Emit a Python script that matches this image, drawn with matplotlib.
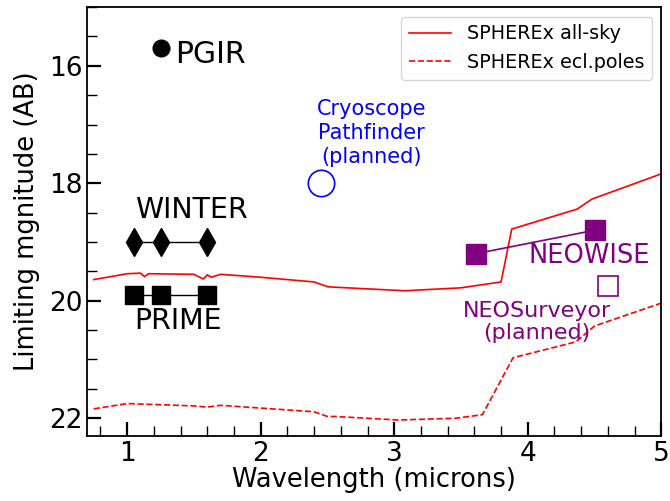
import matplotlib
matplotlib.use("Agg")
import matplotlib.pyplot as plt
from matplotlib.ticker import MultipleLocator

# SPHEREx sensitivity curves (wavelength in microns, AB mag)
sph_wav = [0.75, 1.0, 1.1, 1.13, 1.16, 1.5, 1.57, 1.6, 1.63, 1.7, 2.0, 2.4, 2.5, 2.56,
           3.08, 3.5, 3.8, 3.88, 4.37, 4.48, 5.0]
sph_all = [19.64, 19.54, 19.53, 19.59, 19.54, 19.55, 19.63, 19.56, 19.6, 19.55, 19.6,
           19.68, 19.76, 19.77, 19.83, 19.78, 19.68, 18.78, 18.44, 18.27, 17.84]

pol_wav = [0.75, 1.0, 1.5, 1.6, 1.7, 2.4, 2.5, 2.56, 3.03, 3.46, 3.66, 3.89, 4.36, 4.5, 5.0]
sph_pol = [21.84, 21.75, 21.79, 21.81, 21.78, 21.89, 21.97, 21.97, 22.03, 22.0, 21.94,
           20.97, 20.70, 20.43, 20.04]

pgir_x, pgir_y = [1.25], [15.7]
winter_x, winter_y = [1.05, 1.25, 1.6], [19.0, 19.0, 19.0]
prime_x, prime_y = [1.05, 1.25, 1.6], [19.9, 19.9, 19.9]
cryo_x, cryo_y = [2.45], [18.0]
neowise_x, neowise_y = [3.61, 4.5], [19.2, 18.8]
neosurv_x, neosurv_y = [4.6], [19.75]

fig, ax = plt.subplots(figsize=(6.7, 5.01), dpi=100)

ax.plot(sph_wav, sph_all, color='red', lw=1.2, label='SPHEREx all-sky')
ax.plot(pol_wav, sph_pol, color='red', lw=1.2, ls='--', label='SPHEREx ecl.poles')

ax.plot(pgir_x, pgir_y, 'o', color='black', ms=12)
ax.text(1.36, 15.8, 'PGIR', fontsize=21.5, va='center', ha='left')

ax.plot(winter_x, winter_y, 'd-', color='black', ms=14, lw=1)
ax.text(1.48, 18.45, 'WINTER', fontsize=20.5, ha='center', va='center')

ax.plot(prime_x, prime_y, 's-', color='black', ms=13, lw=1)
ax.text(1.38, 20.35, 'PRIME', fontsize=20.5, ha='center', va='center')

ax.plot(cryo_x, cryo_y, 'o', mfc='none', mec='blue', ms=19, mew=1.2)
ax.text(2.83, 17.14, 'Cryoscope\nPathfinder\n(planned)', color='blue', fontsize=15,
        ha='center', va='center', linespacing=1.25)

ax.plot(neowise_x, neowise_y, 's-', color='purple', ms=14, lw=1.2)
ax.text(4.46, 19.24, 'NEOWISE', color='purple', fontsize=18.5, ha='center', va='center')

ax.plot(neosurv_x, neosurv_y, 's', mfc='none', mec='purple', ms=14, mew=1.2)
ax.text(4.07, 20.36, 'NEOSurveyor\n(planned)', color='purple', fontsize=16,
        ha='center', va='center', linespacing=1.1)

ax.set_xlim(0.7, 5.0)
ax.set_ylim(22.3, 15.0)
ax.yaxis.set_major_locator(MultipleLocator(2))
ax.xaxis.set_minor_locator(MultipleLocator(0.2))
ax.yaxis.set_minor_locator(MultipleLocator(0.5))
ax.tick_params(which='both', direction='in', labelsize=19)
ax.tick_params(which='major', length=10, width=1.6)
ax.tick_params(which='minor', length=7, width=1.0)
for s in ax.spines.values():
    s.set_linewidth(1.3)

ax.set_xlabel('Wavelength (microns)', fontsize=18.5, labelpad=0)
ax.set_ylabel('Limiting mgnitude (AB)', fontsize=18.5, labelpad=6)
ax.legend(loc='upper right', fontsize=13.8, handlelength=2.2)

fig.subplots_adjust(left=0.13, right=0.987, top=0.986, bottom=0.13)
fig.savefig('out.png')
